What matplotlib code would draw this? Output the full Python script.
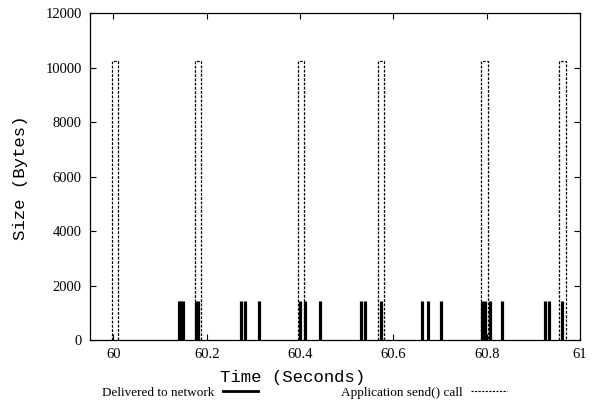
import matplotlib
matplotlib.use("Agg")
import matplotlib.pyplot as plt
from matplotlib.lines import Line2D

# packets handed to the network (time in s, size in bytes)
sent_t = [60.141, 60.145, 60.149, 60.177, 60.181, 60.2725, 60.283, 60.3115,
          60.401, 60.410, 60.442, 60.530, 60.5395, 60.574, 60.661, 60.6735,
          60.702, 60.7895, 60.7965, 60.807, 60.8335, 60.925, 60.934, 60.961]
sent_size = [1448] * len(sent_t)

# application send() calls (start, end, size)
call_start = [59.998, 60.175, 60.395, 60.568, 60.788, 60.954]
call_end = [60.011, 60.188, 60.408, 60.580, 60.802, 60.969]
call_size = [10240] * len(call_start)

serif = "Liberation Serif"
mono = "Liberation Mono"

fig = plt.figure(figsize=(5.94, 4.17), dpi=100)
ax = fig.add_axes([90/594, 1 - 340/417, 490/594, (340 - 13.3)/417])

ax.vlines(sent_t, 0, sent_size, colors="black", lw=2.3)

dash = (0, (2.2, 1.2))
for s, e, h in zip(call_start, call_end, call_size):
    ax.plot([s, s, e, e], [0, h, h, 0], color="black", lw=0.9, linestyle=dash)

ax.set_xlim(59.95, 61.0)
ax.set_ylim(0, 12000)
ax.set_xticks([60, 60.2, 60.4, 60.6, 60.8, 61])
ax.set_xticklabels(["60", "60.2", "60.4", "60.6", "60.8", "61"])
ax.set_yticks(range(0, 12001, 2000))

ax.tick_params(direction="in", length=4, width=0.8, top=True, right=True,
               labelsize=10.5, pad=6)
for lab in ax.get_xticklabels() + ax.get_yticklabels():
    lab.set_fontfamily(serif)
for sp in ax.spines.values():
    sp.set_linewidth(0.9)

fig.text(293/594, 1 - 377.7/417, "Time (Seconds)", family=mono, fontsize=12.5,
         ha="center", va="center")
fig.text(21/594, 1 - 178/417, "Size (Bytes)", family=mono, fontsize=12.5,
         ha="center", va="center", rotation=90)

handles = [Line2D([], [], color="black", lw=2),
           Line2D([], [], color="black", lw=0.8, linestyle=(0, (2, 1.2)))]
fig.legend(handles, ["Delivered to network", "Application send() call"],
           loc="center", bbox_to_anchor=(304.5/594, 1 - 392.7/417), ncol=2,
           markerfirst=False, frameon=False, handlelength=2.7,
           handletextpad=0.6, columnspacing=6.3,
           prop={"family": serif, "size": 9.5})

fig.savefig("out.png", dpi=100)
